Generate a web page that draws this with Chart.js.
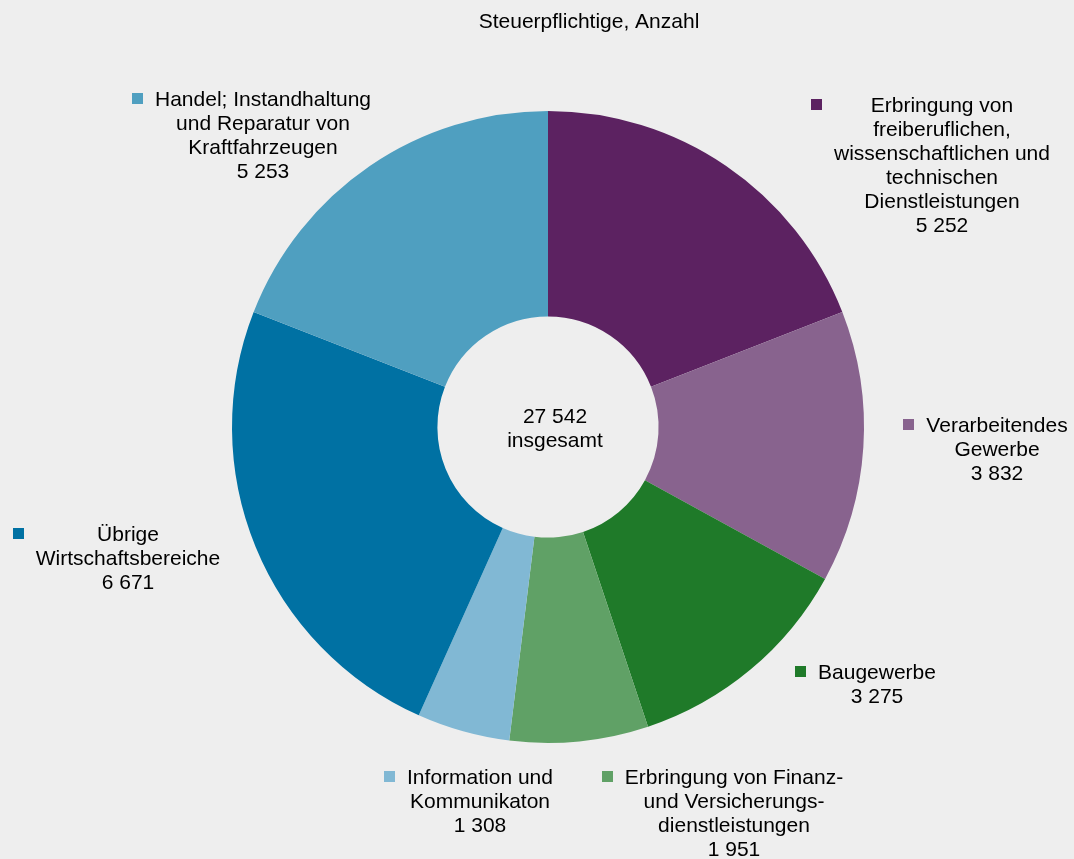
<!DOCTYPE html>
<html>
<head>
<meta charset="utf-8">
<script src="https://cdn.jsdelivr.net/npm/chart.js@4/dist/chart.umd.min.js"></script>
<style>
  html, body { margin: 0; padding: 0; background: #eeeeee; }
  #wrap { width: 1074px; height: 859px; }
</style>
</head>
<body>
<div id="wrap"><canvas id="c" width="1074" height="859"></canvas></div>
<script>
// ******************************************************** DATA

var categories = [
  ["Erbringung von", "freiberuflichen,", "wissenschaftlichen und", "technischen", "Dienstleistungen"],
  ["Verarbeitendes", "Gewerbe"],
  ["Baugewerbe"],
  ["Erbringung von Finanz-", "und Versicherungs-", "dienstleistungen"],
  ["Information und", "Kommunikaton"],
  ["Übrige", "Wirtschaftsbereiche"],
  ["Handel; Instandhaltung", "und Reparatur von", "Kraftfahrzeugen"]
];
var values = [5252, 3832, 3275, 1951, 1308, 6671, 5253];
var colors = ["#5c2261", "#88638e", "#1f7a29", "#60a166", "#81b8d4", "#0071a3", "#4f9fc0"];
var titleText = "Steuerpflichtige, Anzahl";
var centerCaption = "insgesamt";

// label anchors (centre x, first line y)
var labelPos = [[942, 106], [997, 426], [877, 673], [734, 778], [480, 778], [128, 535], [263, 100]];

var FONT = '21px "Liberation Sans", Arial, sans-serif';
var LINE = 24;

function fmt(n) {
  return String(n).replace(/\B(?=(\d{3})+(?!\d))/g, " ");
}

// ******************************************************** CHART

var labelPlugin = {
  id: 'sliceLabels',
  afterDraw: function (chart) {
    var ctx = chart.ctx;
    var meta = chart.getDatasetMeta(0);
    var arc0 = meta.data[0];
    var total = values.reduce(function (a, b) { return a + b; }, 0);
    ctx.save();
    ctx.font = FONT;
    ctx.fillStyle = "#000000";
    ctx.textAlign = "center";
    ctx.textBaseline = "middle";

    // title
    ctx.fillText(titleText, 589, 22);

    // center text
    ctx.fillText(fmt(total), arc0.x + 7, arc0.y - 10);
    ctx.fillText(centerCaption, arc0.x + 7, arc0.y + 14);

    categories.forEach(function (lines, i) {
      var p = labelPos[i];
      var all = lines.concat([fmt(values[i])]);
      var maxW = 0;
      all.forEach(function (t) { maxW = Math.max(maxW, ctx.measureText(t).width); });
      all.forEach(function (t, j) {
        ctx.fillText(t, p[0], p[1] + j * LINE);
      });
      ctx.fillStyle = colors[i];
      ctx.fillRect(Math.round(p[0] - maxW / 2 - 23), p[1] - 7, 11, 11);
      ctx.fillStyle = "#000000";
    });
    ctx.restore();
  }
};

var _ctx = document.getElementById("c").getContext("2d");

window.myPie = new Chart(_ctx, {
  type: 'doughnut',
  data: {
    labels: categories.map(function (l) { return l.join(" "); }),
    datasets: [{
      data: values,
      backgroundColor: colors,
      borderWidth: 0
    }]
  },
  options: {
    responsive: false,
    devicePixelRatio: 1,
    animation: false,
    cutout: '35%',
    rotation: 0,
    layout: { padding: { left: 22, right: 0, top: 111, bottom: 116 } },
    plugins: {
      legend: { display: false },
      title: { display: false },
      tooltip: { enabled: false }
    }
  },
  plugins: [labelPlugin]
});
</script>
</body>
</html>
